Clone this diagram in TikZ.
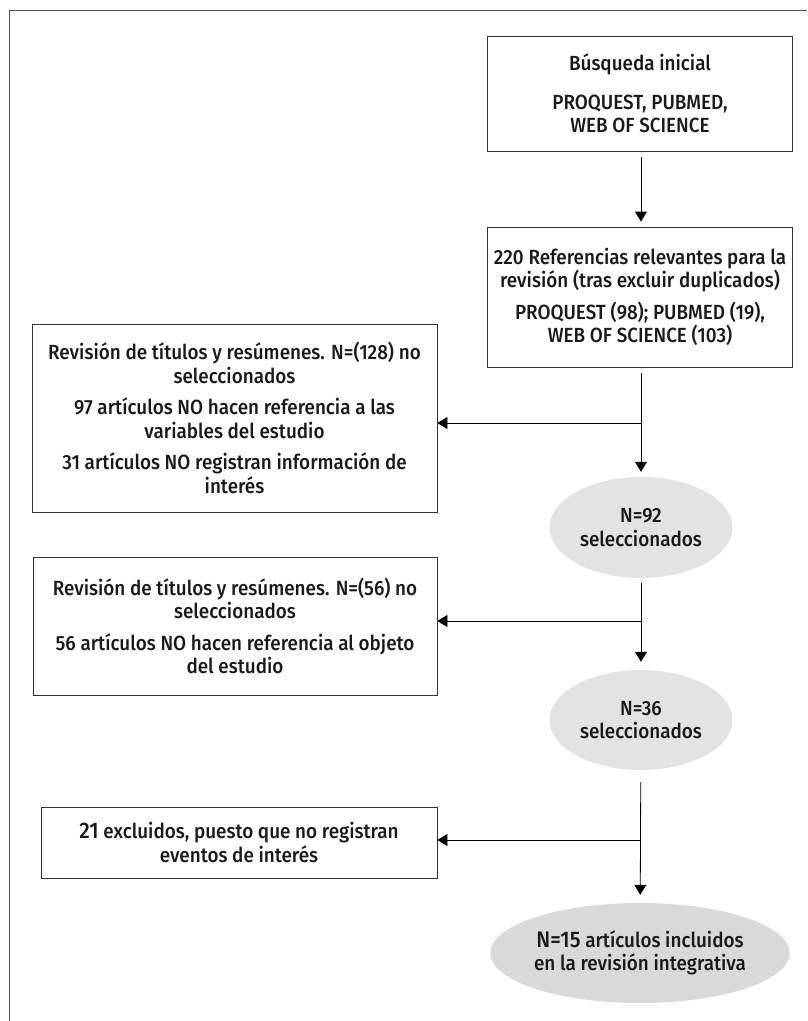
\documentclass[tikz,border=0pt]{standalone}
\usepackage{fontspec}
\setmainfont{Fira Sans}[UprightFont=* Medium, FakeStretch=0.92]
\usetikzlibrary{arrows.meta, shapes.geometric}

\begin{document}
\begin{tikzpicture}[x=1pt,y=-1pt,>={Triangle[width=12pt,length=10pt]},
  box/.style={draw=black!80, line width=0.8pt, align=center, inner sep=0pt, text=black!90},
  oval/.style={ellipse, fill=black!11, align=center, inner sep=0pt, text=black!90},
  font=\fontsize{20.5}{23.5}\selectfont]
\useasboundingbox (0,0) rectangle (807,1021);

% frame of the figure
\draw[black!70, line width=0.8pt] (807,10) -- (9,10) -- (9,1021);

% define the boxes
  \node[box, minimum width=305pt, minimum height=115pt] (busq) at (640,93.5)
{Búsqueda inicial\\[15pt] PROQUEST, PUBMED,\\ WEB OF SCIENCE};
  \node[box, minimum width=305pt, minimum height=140pt] (refs) at (640,297)
{220 Referencias relevantes para la\\ revisión (tras excluir duplicados)\\[8pt] PROQUEST (98); PUBMED (19),\\ WEB OF SCIENCE (103)};
  \node[box, minimum width=405pt, minimum height=188pt] (rev1) at (234.5,418)
{Revisión de títulos y resúmenes. N=(128) no\\ seleccionados\\[8pt] 97 artículos NO hacen referencia a las\\ variables del estudio\\[8pt] 31 artículos NO registran información de\\ interés};
  \node[box, minimum width=404pt, minimum height=138pt] (rev2) at (235,626)
{Revisión de títulos y resúmenes. N=(56) no\\ seleccionados\\[8pt] 56 artículos NO hacen referencia al objeto\\ del estudio};
  \node[box, minimum width=396pt, minimum height=71pt] (excl) at (239,842.5)
{{\fontsize{22.5}{23.5}\selectfont 21} excluidos, puesto que no registran\\ eventos de interés};

% define the ovals
  \node[oval, minimum width=183pt, minimum height=101pt] (sel1) at (641,527.5)
{N=92\\ seleccionados};
  \node[oval, minimum width=183pt, minimum height=100pt] (sel2) at (641,720)
{N=36\\ seleccionados};
  \node[oval, fill=black!15, minimum width=286pt, minimum height=100pt] (incl) at (640,953)
{{\fontsize{22.5}{23.5}\selectfont N=15} artículos incluidos\\ en la revisión integrativa};

% branch points
  \coordinate (j1) at (641,423);
  \coordinate (j2) at (641,621);
  \coordinate (j3) at (641,840);

% define the links
  \path[->, line width=0.8pt] (busq.south -| j1) edge [shorten <=6pt, shorten >=5pt] (refs.north -| j1)
        (refs.south -| j1) edge [shorten <=6pt, shorten >=5pt] (sel1)
        (sel1) edge [shorten <=5pt, shorten >=8pt] (sel2)
        (sel2) edge [shorten <=12pt, shorten >=8pt] (incl)
        (j1) edge (j1 -| rev1.east)
        (j2) edge (j2 -| rev2.east)
        (j3) edge (j3 -| excl.east);

\end{tikzpicture}
\end{document}
